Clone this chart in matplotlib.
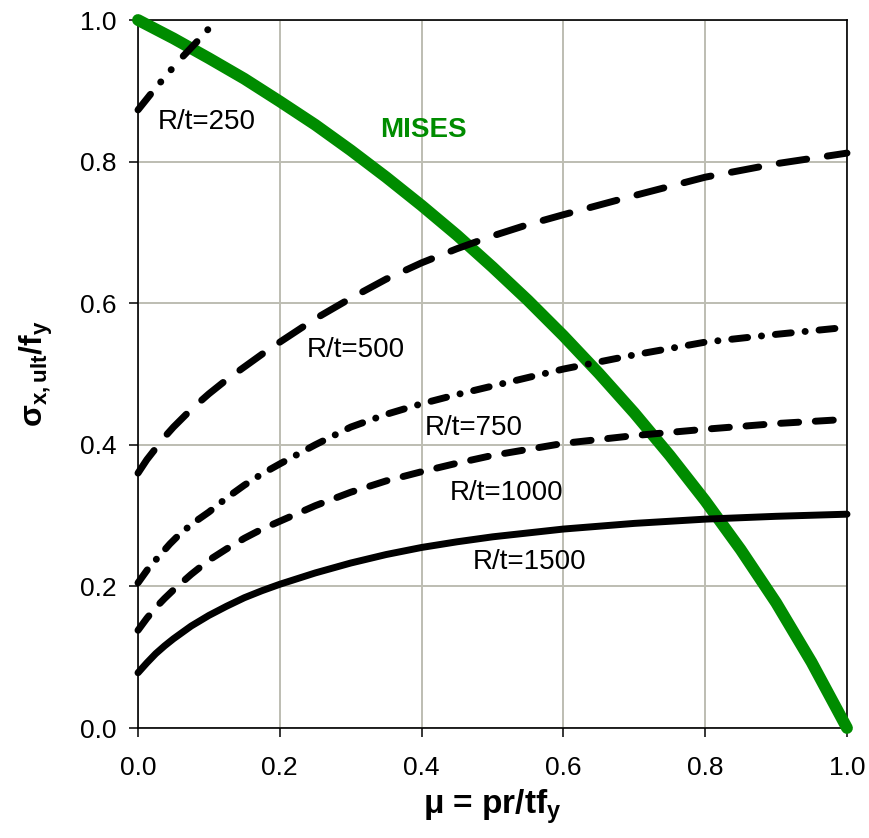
import matplotlib
matplotlib.use("Agg")
import matplotlib.pyplot as plt

plt.rcParams['font.family'] = ['Liberation Sans', 'DejaVu Sans']
plt.rcParams['mathtext.fontset'] = 'custom'
plt.rcParams['mathtext.rm'] = 'Liberation Sans'
plt.rcParams['mathtext.it'] = 'Liberation Sans:italic'
plt.rcParams['mathtext.bf'] = 'Liberation Sans:bold'
plt.rcParams['lines.scale_dashes'] = False

# ---- data ----
mises_mu = [0.0, 0.05, 0.1, 0.15, 0.2, 0.25, 0.3, 0.35, 0.4, 0.45, 0.5, 0.55, 0.6, 0.65,
            0.7, 0.75, 0.8, 0.85, 0.9, 0.95, 1.0]
mises_s = [1.0, 0.974, 0.946, 0.917, 0.885, 0.852, 0.816, 0.778, 0.738, 0.696, 0.651,
           0.604, 0.554, 0.501, 0.445, 0.385, 0.321, 0.252, 0.177, 0.093, 0.0]

rt250_mu = [0.0, 0.02, 0.04, 0.06, 0.08, 0.10, 0.108]
rt250_s = [0.873, 0.898, 0.922, 0.945, 0.966, 0.988, 1.0]

rt500_mu = [0.0, 0.0125, 0.025, 0.0375, 0.05, 0.075, 0.1, 0.125, 0.15, 0.175, 0.2, 0.25, 0.3,
            0.35, 0.4, 0.45, 0.5, 0.55, 0.6, 0.7, 0.8, 0.9, 1.0]
rt500_s = [0.360, 0.379, 0.395, 0.411, 0.425, 0.450, 0.472, 0.492, 0.510, 0.528, 0.545, 0.578,
           0.607, 0.634, 0.657, 0.677, 0.695, 0.711, 0.725, 0.752, 0.778, 0.797, 0.812]

rt750_mu = [0.0, 0.015, 0.03, 0.045, 0.06, 0.08, 0.1, 0.125, 0.15, 0.175, 0.2, 0.25, 0.3,
            0.35, 0.4, 0.45, 0.5, 0.6, 0.7, 0.8, 0.9, 1.0]
rt750_s = [0.205, 0.226, 0.243, 0.260, 0.275, 0.291, 0.305, 0.325, 0.343, 0.359, 0.373, 0.400,
           0.425, 0.443, 0.458, 0.471, 0.483, 0.507, 0.527, 0.545, 0.556, 0.566]

rt1000_mu = [0.0, 0.0125, 0.025, 0.0375, 0.05, 0.075, 0.1, 0.125, 0.15, 0.175, 0.2, 0.25, 0.3,
             0.35, 0.4, 0.45, 0.5, 0.6, 0.7, 0.8, 0.9, 1.0]
rt1000_s = [0.138, 0.155, 0.170, 0.183, 0.195, 0.217, 0.237, 0.253, 0.268, 0.281, 0.292, 0.314,
            0.333, 0.349, 0.362, 0.374, 0.385, 0.402, 0.413, 0.422, 0.430, 0.436]

rt1500_mu = [0.0, 0.0125, 0.025, 0.0375, 0.05, 0.075, 0.1, 0.125, 0.15, 0.175, 0.2, 0.25, 0.3,
             0.35, 0.4, 0.45, 0.5, 0.6, 0.7, 0.8, 0.9, 1.0]
rt1500_s = [0.078, 0.092, 0.105, 0.116, 0.126, 0.144, 0.159, 0.172, 0.184, 0.194, 0.203, 0.219,
            0.233, 0.245, 0.255, 0.263, 0.270, 0.281, 0.289, 0.295, 0.299, 0.302]

xticks = [0.0, 0.2, 0.4, 0.6, 0.8, 1.0]
yticks = [0.0, 0.2, 0.4, 0.6, 0.8, 1.0]
tick_labels = ['0.0', '0.2', '0.4', '0.6', '0.8', '1.0']

labels = ['R/t=250', 'R/t=500', 'R/t=750', 'R/t=1000', 'R/t=1500', 'MISES']

# ---- figure ----
fig = plt.figure(figsize=(8.69, 8.38), dpi=100)
ax = fig.add_axes([138/869, 1-728/838, (847-138)/869, (728-20)/838])

green = '#008c00'
ax.plot(mises_mu, mises_s, color=green, lw=8.5, solid_capstyle='round',
        solid_joinstyle='round', clip_on=False, zorder=3)

blw = 5
common = dict(color='black', lw=blw, dash_capstyle='round', solid_capstyle='round',
              dash_joinstyle='round', solid_joinstyle='round', clip_on=False, zorder=4)
ax.plot(rt250_mu, rt250_s, linestyle=(0, (14.4, 11.5, 0.1, 11.5, 0.1, 13)), **common)
ax.plot(rt500_mu, rt500_s, linestyle=(0, (20, 15)), **common)
ax.plot(rt750_mu, rt750_s, linestyle=(0, (11.5, 10, 0.1, 10)), **common)
ax.plot(rt1000_mu, rt1000_s, linestyle=(0, (13, 12)), **common)
ax.plot(rt1500_mu, rt1500_s, linestyle='-', **common)

fs = 20
ax.text(0.028, 0.856, labels[0], fontsize=fs, va='center', ha='left')
ax.text(0.238, 0.534, labels[1], fontsize=fs, va='center', ha='left')
ax.text(0.405, 0.424, labels[2], fontsize=fs, va='center', ha='left')
ax.text(0.439, 0.332, labels[3], fontsize=fs, va='center', ha='left')
ax.text(0.472, 0.234, labels[4], fontsize=fs, va='center', ha='left')
ax.text(0.341, 0.845, labels[5], fontsize=fs, va='center', ha='left',
        color=green, fontweight='bold')

ax.set_xlim(0, 1)
ax.set_ylim(0, 1)
ax.set_xticks(xticks)
ax.set_yticks(yticks)
ax.set_xticklabels(tick_labels, fontsize=19)
ax.set_yticklabels(tick_labels, fontsize=19)
ax.tick_params(direction='out', length=6.5, width=1.1, pad=9, color='black')
ax.tick_params(axis='x', pad=14)
ax.grid(True, color='#bdbdb2', lw=1.4)
ax.set_axisbelow(True)
for sp in ax.spines.values():
    sp.set_linewidth(1.2)
    sp.set_color('black')

ax.set_xlabel('μ = pr/tf$_\\mathbf{y}$', fontsize=24, fontweight='bold', labelpad=5)
ax.set_ylabel('σ$_\\mathbf{x,ult}$/f$_\\mathbf{y}$', fontsize=23, fontweight='bold', labelpad=18)

fig.savefig('out.png', dpi=100, facecolor='white')
